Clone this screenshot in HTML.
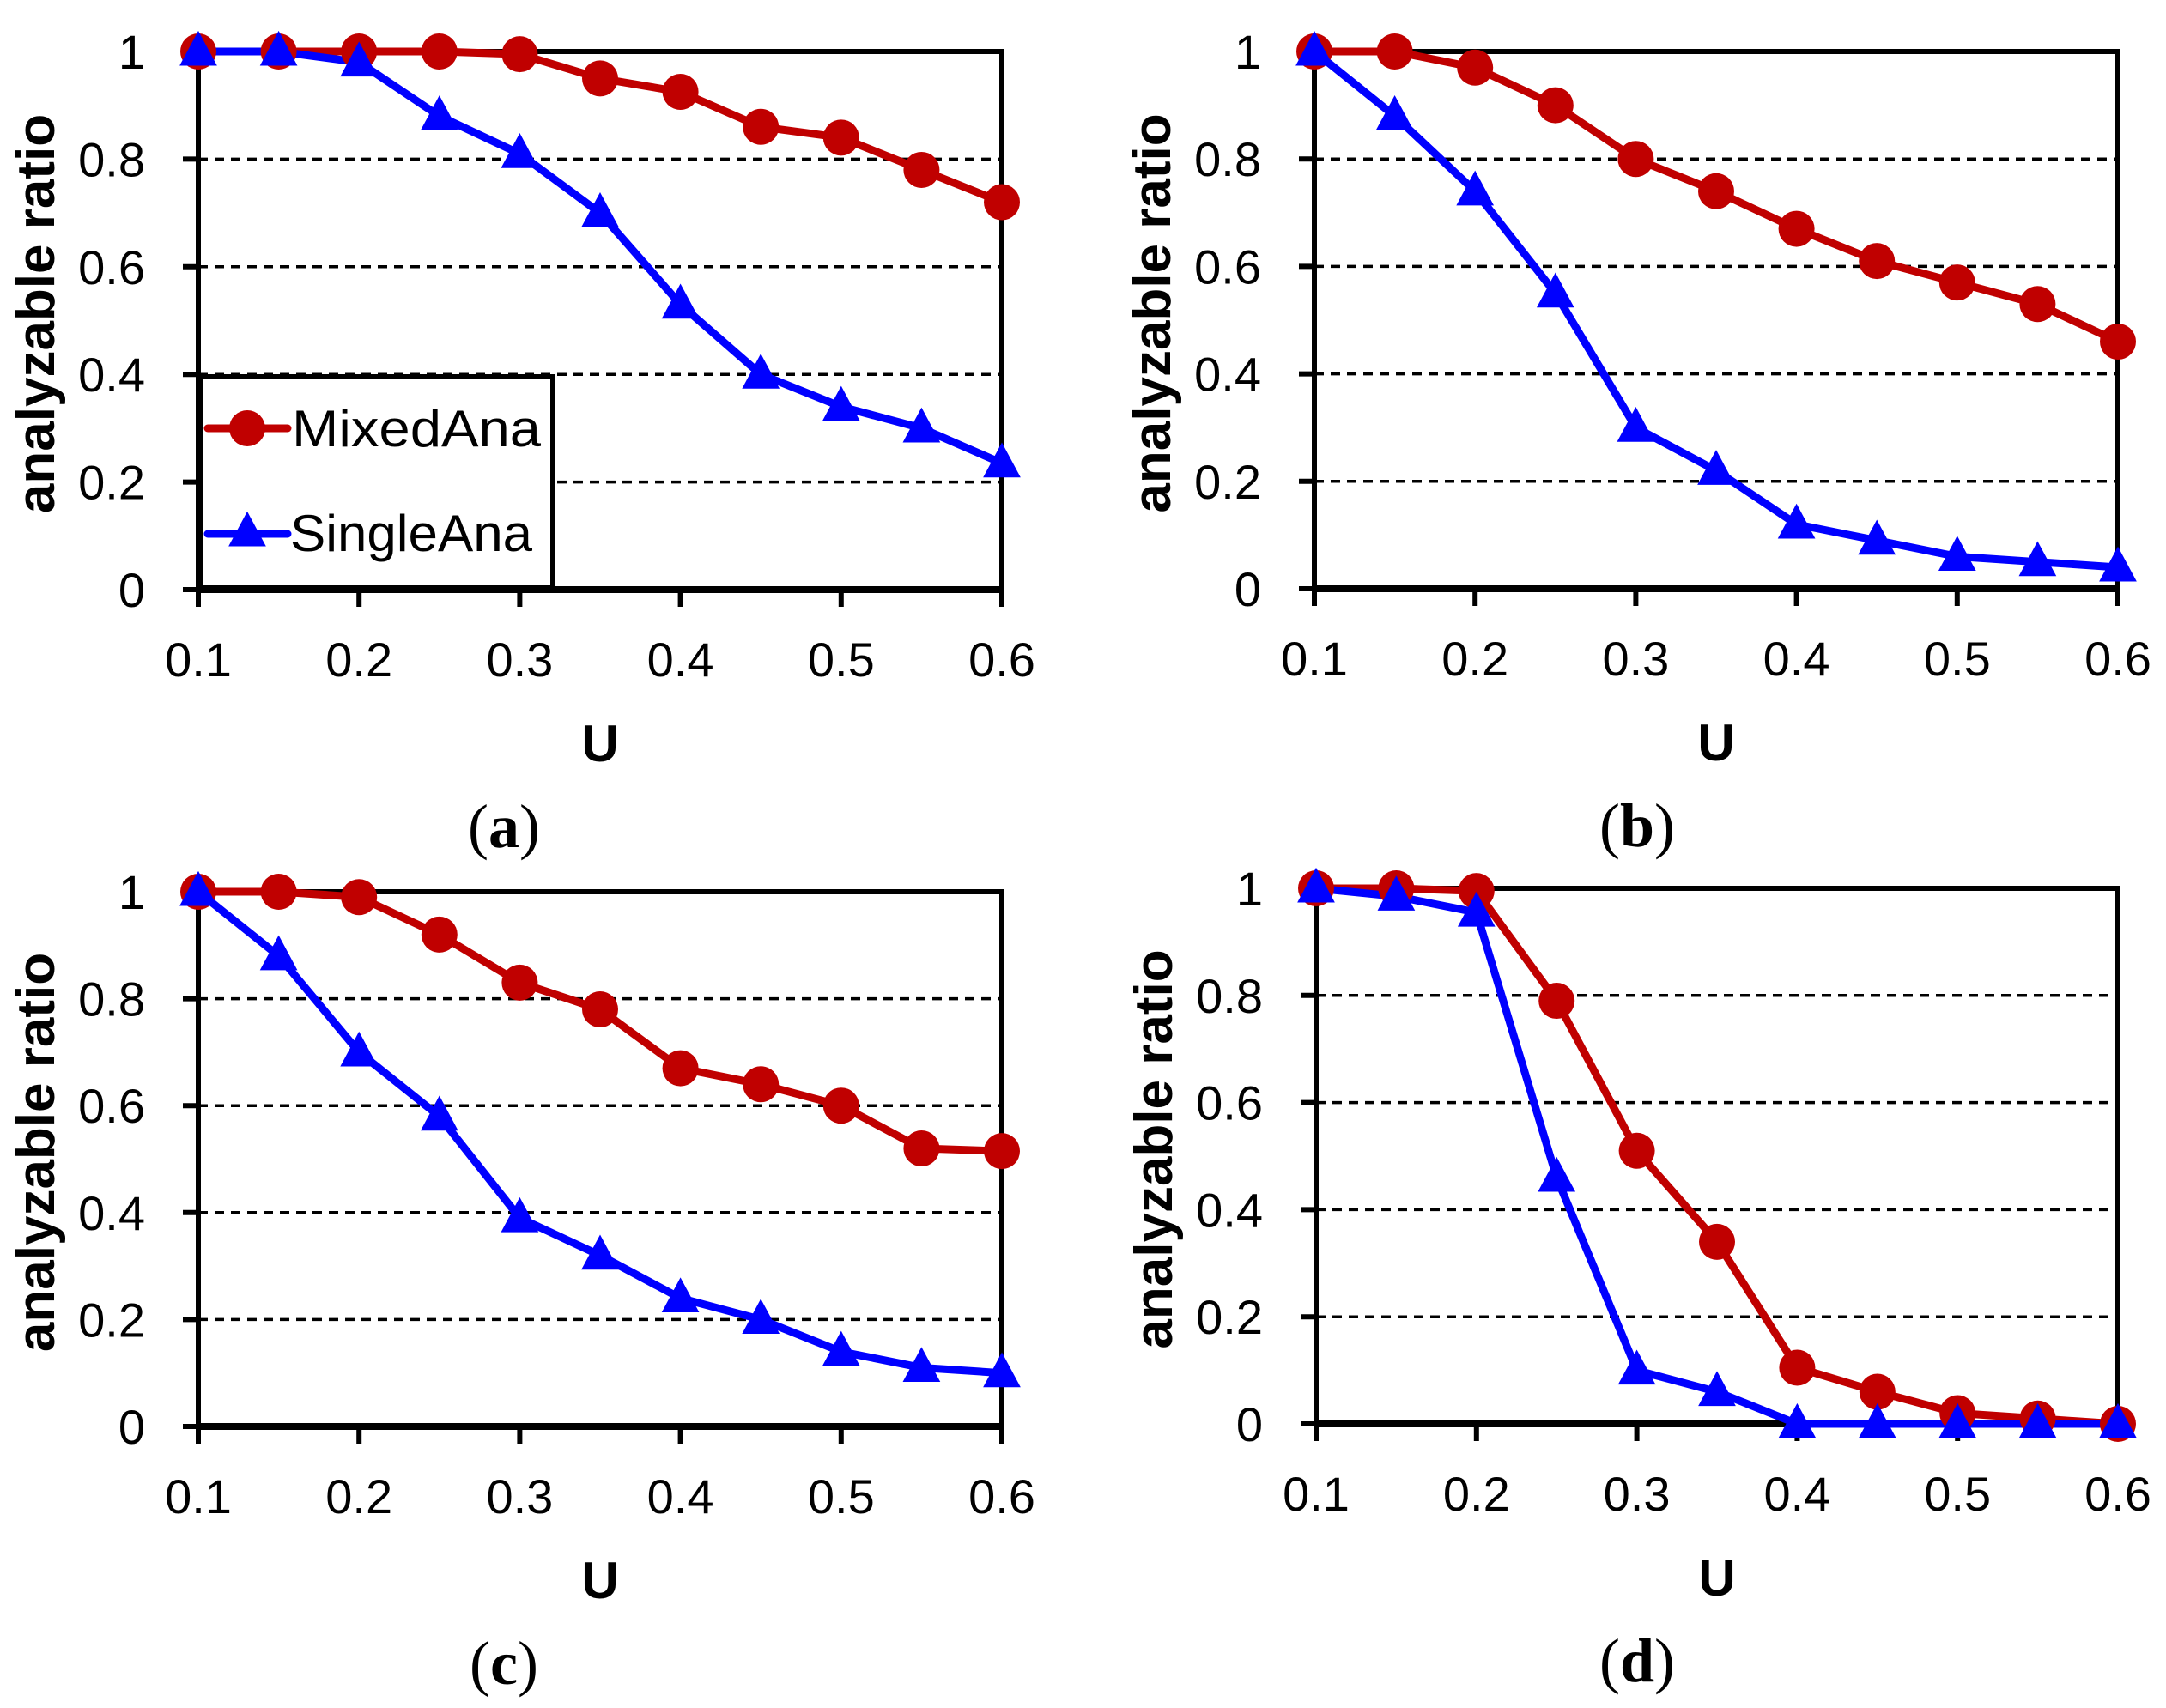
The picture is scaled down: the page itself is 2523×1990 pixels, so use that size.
<!DOCTYPE html>
<html><head><meta charset="utf-8">
<style>
html,body{margin:0;padding:0;background:#fff;}
svg{display:block;}
text{font-family:"Liberation Sans",sans-serif;}
</style></head>
<body>
<svg id="fig" width="2523" height="1990" viewBox="0 0 2523 1990" xmlns="http://www.w3.org/2000/svg"></svg>
<script>
const xValues = [0.1,0.15,0.2,0.25,0.3,0.35,0.4,0.45,0.5,0.55,0.6];
const xTicks = [0.1,0.2,0.3,0.4,0.5,0.6];
const yTicks = [0,0.2,0.4,0.6,0.8,1];
const yTickLabels = ["0","0.2","0.4","0.6","0.8","1"];
const seriesNames = ["MixedAna","SingleAna"];
const mixedA = [1,1,1,1,0.995,0.95,0.925,0.86,0.84,0.78,0.72];
const singleA = [1,1,0.98,0.88,0.81,0.70,0.53,0.40,0.34,0.30,0.235];
const mixedB = [1,1,0.97,0.90,0.80,0.74,0.67,0.61,0.57,0.53,0.46];
const singleB = [1,0.88,0.74,0.55,0.30,0.22,0.12,0.09,0.06,0.05,0.04];
const mixedC = [1,1,0.99,0.92,0.83,0.78,0.67,0.64,0.60,0.52,0.515];
const singleC = [1,0.88,0.70,0.58,0.39,0.32,0.24,0.20,0.14,0.11,0.10];
const mixedD = [1,1,0.995,0.79,0.51,0.34,0.105,0.06,0.02,0.01,0];
const singleD = [1,0.985,0.955,0.46,0.10,0.06,0,0,0,0,0];
const panelLetters = ["a","b","c","d"];

const NS="http://www.w3.org/2000/svg";
const svg=document.getElementById('fig');
function mk(tag,attrs,parent){const e=document.createElementNS(NS,tag);for(const k in attrs)e.setAttribute(k,attrs[k]);(parent||svg).appendChild(e);return e;}

const panels=[
 {x0:231,x1:1167,y0:687,y1:60,m:mixedA,s:singleA,legend:true,name:'a',lx:587},
 {x0:1531,x1:2467,y0:686,y1:60,m:mixedB,s:singleB,legend:false,name:'b',lx:1907},
 {x0:231,x1:1167,y0:1662,y1:1039,m:mixedC,s:singleC,legend:false,name:'c',lx:587},
 {x0:1533,x1:2467,y0:1659,y1:1035,m:mixedD,s:singleD,legend:false,name:'d',lx:1907}
];
const RED="#c00000", BLUE="#0000ff";

function tri(cx,cy,r,parent){
  return mk('polygon',{points:`${cx},${cy-r*1.05} ${cx-r*0.95},${cy+r*0.72} ${cx+r*0.95},${cy+r*0.72}`,fill:BLUE},parent);
}

panels.forEach((p,pi)=>{
  const g=mk('g',{});
  
  
  const sx=v=>p.x0+(v-0.1)/(0.5)*(p.x1-p.x0);
  const sy=v=>p.y0+v*(p.y1-p.y0);
  yTicks.forEach(t=>{
    if(t>0&&t<1){
      const l=mk('line',{x1:p.x0,x2:p.x1,y1:sy(t),y2:sy(t),stroke:'#000','stroke-width':3.5,'stroke-dasharray':'11 8'},g);
      
      
    }
  });
  const fr=mk('rect',{x:p.x0,y:p.y1,width:p.x1-p.x0,height:p.y0-p.y1,fill:'none',stroke:'#000','stroke-width':6},g);
  
  
  mk('line',{x1:p.x0-2,x2:p.x1+3,y1:p.y0,y2:p.y0,stroke:'#000','stroke-width':8},g);
  yTicks.forEach((t,i)=>{
    mk('line',{x1:p.x0-18,x2:p.x0,y1:sy(t),y2:sy(t),stroke:'#000','stroke-width':6},g);
    const tx=mk('text',{x:p.x0-62,y:sy(t)+20,'text-anchor':'end','font-size':56},g);
    tx.textContent=yTickLabels[i];
    
    
  });
  xTicks.forEach(t=>{
    mk('line',{x1:sx(t),x2:sx(t),y1:p.y0,y2:p.y0+20,stroke:'#000','stroke-width':6},g);
    const tx=mk('text',{x:sx(t),y:p.y0+101,'text-anchor':'middle','font-size':56},g);
    tx.textContent=t.toFixed(1);
    
    
  });
  const xt=mk('text',{x:(p.x0+p.x1)/2,y:p.y0+200,'text-anchor':'middle','font-size':60,'font-weight':'bold'},g);
  xt.textContent='U';
  
  
  const ycx=p.x0-168, ycy=(p.y0+p.y1)/2-8;
  const yt=mk('text',{x:ycx,y:ycy,'text-anchor':'middle','font-size':62,'font-weight':'bold',transform:`rotate(-90 ${ycx} ${ycy})`},g);
  yt.textContent='analyzable ratio';
  
  
  const pl=mk('text',{x:p.lx,y:p.y0+300,'text-anchor':'middle','font-size':72,style:'font-family:"Liberation Serif",serif'},g);
  pl.innerHTML='(<tspan font-weight="bold">'+panelLetters[pi]+'</tspan>)';
  
  
  const mp=mk('polyline',{points:p.m.map((v,i)=>sx(xValues[i])+','+sy(v)).join(' '),fill:'none',stroke:RED,'stroke-width':9,'stroke-linejoin':'round'},g);
  
  
  const sp=mk('polyline',{points:p.s.map((v,i)=>sx(xValues[i])+','+sy(v)).join(' '),fill:'none',stroke:BLUE,'stroke-width':9,'stroke-linejoin':'round'},g);
  
  
  p.m.forEach((v,i)=>{
    const c=mk('circle',{cx:sx(xValues[i]),cy:sy(v),r:21,fill:RED},g);
    
    
  });
  p.s.forEach((v,i)=>{
    const t=tri(sx(xValues[i]),sy(v),23,g);
    
    
  });
  if(p.legend){
    const lg=mk('g',{},g);
    
    
    mk('rect',{x:234,y:439,width:410,height:246,fill:'#fff',stroke:'#000','stroke-width':6},lg);
    mk('line',{x1:242,x2:335,y1:499,y2:499,stroke:RED,'stroke-width':9,'stroke-linecap':'round'},lg);
    mk('circle',{cx:288,cy:499,r:21,fill:RED},lg);
    const t1=mk('text',{x:340,y:520,'font-size':60,textLength:290,lengthAdjust:'spacingAndGlyphs'},lg);
    t1.textContent=seriesNames[0];
    
    
    mk('line',{x1:242,x2:335,y1:622,y2:622,stroke:BLUE,'stroke-width':9,'stroke-linecap':'round'},lg);
    tri(288,620,23,lg);
    const t2=mk('text',{x:338,y:642,'font-size':60,textLength:282,lengthAdjust:'spacingAndGlyphs'},lg);
    t2.textContent=seriesNames[1];
    
    
  }
});
</script>
</body></html>
